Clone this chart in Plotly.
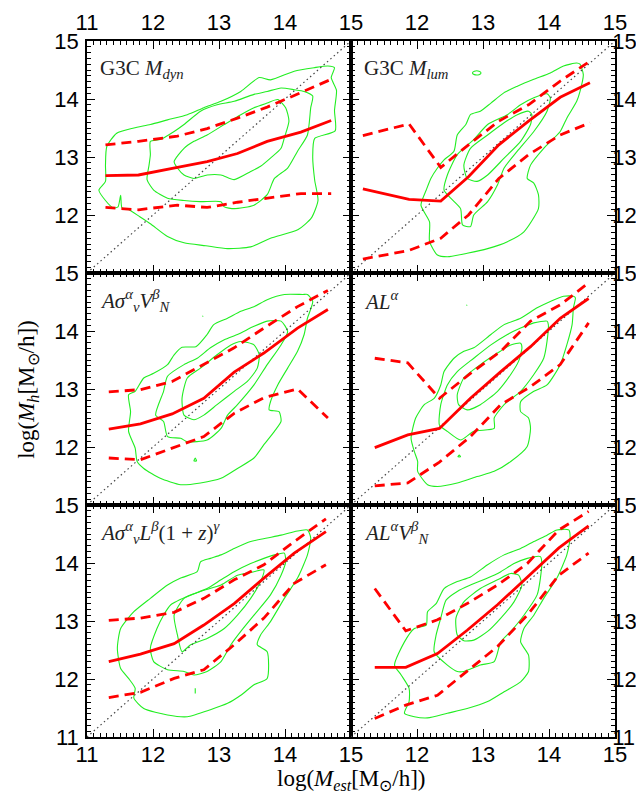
import plotly.graph_objects as go
from plotly.subplots import make_subplots

# ---------------- data ----------------
PANEL_LABELS = [
    "G3C <i>M</i><sub><i>dyn</i></sub>",
    "G3C <i>M</i><sub><i>lum</i></sub>",
    "<i>Aσ</i><sup><i>α</i></sup><sub><i>v</i></sub><i>V</i><sup><i>β</i></sup><sub><i>N</i></sub>",
    "<i>AL</i><sup><i>α</i></sup>",
    "<i>Aσ</i><sup><i>α</i></sup><sub><i>v</i></sub><i>L</i><sup><i>β</i></sup>(1 + <i>z</i>)<sup><i>γ</i></sup>",
    "<i>AL</i><sup><i>α</i></sup><i>V</i><sup><i>β</i></sup><sub><i>N</i></sub>",
]

# bin centres, medians, upper / lower percentiles for each panel
P1_X = [11.28, 11.78, 12.37, 12.82, 13.28, 13.73, 14.24, 14.70]
P1_MED = [12.68, 12.69, 12.82, 12.92, 13.06, 13.27, 13.43, 13.63]
P1_HI = [13.21, 13.27, 13.36, 13.49, 13.67, 13.86, 14.11, 14.34]
P1_LO = [12.13, 12.09, 12.17, 12.13, 12.22, 12.29, 12.37, 12.37]

P2_X = [11.18, 11.88, 12.36, 12.78, 13.24, 13.69, 14.17, 14.62]
P2_MED = [12.45, 12.27, 12.24, 12.66, 13.21, 13.62, 14.03, 14.28]
P2_HI = [13.37, 13.57, 12.82, 13.21, 13.62, 13.90, 14.31, 14.65]
P2_LO = [11.24, 11.39, 11.60, 12.00, 12.63, 13.04, 13.38, 13.59]

P3_X = [11.33, 11.81, 12.29, 12.77, 13.23, 13.68, 14.19, 14.65]
P3_MED = [12.31, 12.40, 12.57, 12.84, 13.29, 13.62, 14.05, 14.37]
P3_HI = [12.95, 12.99, 13.13, 13.42, 13.71, 14.05, 14.42, 14.70]
P3_LO = [11.81, 11.78, 11.98, 12.18, 12.58, 12.85, 13.00, 12.50]

P4_X = [11.36, 11.86, 12.34, 12.81, 13.27, 13.72, 14.17, 14.60]
P4_MED = [11.99, 12.21, 12.32, 12.84, 13.30, 13.73, 14.22, 14.56]
P4_HI = [13.53, 13.45, 12.84, 13.27, 13.65, 14.17, 14.45, 14.83]
P4_LO = [11.33, 11.38, 11.74, 12.18, 12.73, 13.04, 13.42, 14.14]

P5_X = [11.33, 11.81, 12.32, 12.77, 13.23, 13.68, 14.14, 14.62]
P5_MED = [12.30, 12.43, 12.61, 12.93, 13.30, 13.74, 14.17, 14.54]
P5_HI = [13.01, 13.05, 13.15, 13.39, 13.71, 13.97, 14.37, 14.76]
P5_LO = [11.68, 11.77, 12.01, 12.16, 12.59, 13.05, 13.65, 13.97]

P6_X = [11.36, 11.83, 12.31, 12.76, 13.22, 13.67, 14.15, 14.60]
P6_MED = [12.20, 12.20, 12.44, 12.84, 13.28, 13.76, 14.26, 14.64]
P6_HI = [13.56, 12.83, 13.02, 13.30, 13.62, 13.99, 14.57, 14.89]
P6_LO = [11.32, 11.55, 11.72, 12.13, 12.56, 13.10, 13.79, 14.17]

# density contour outlines (x, y) per panel
P1_OUTER = [(11.30, 13.18), (11.45, 13.41), (11.71, 13.50), (11.96, 13.56), (12.22, 13.64), (12.52, 13.73),
            (12.77, 13.85), (13.03, 13.96), (13.33, 14.13), (13.61, 14.37), (13.78, 14.33), (14.14, 14.48),
            (14.44, 14.54), (14.65, 14.57), (14.75, 14.54), (14.70, 14.37), (14.78, 14.15), (14.75, 13.80),
            (14.76, 13.45), (14.45, 13.32), (14.42, 13.00), (14.45, 12.60), (14.50, 12.25), (14.40, 11.95),
            (14.20, 11.75), (13.78, 11.60), (13.48, 11.45), (13.13, 11.42), (12.80, 11.47), (12.47, 11.52),
            (12.22, 11.63), (11.96, 11.85), (11.80, 11.97), (11.62, 12.10), (11.53, 12.12), (11.51, 12.34),
            (11.47, 12.14), (11.40, 12.12), (11.28, 12.25), (11.18, 12.43), (11.28, 12.58), (11.28, 12.86),
            (11.30, 13.18)]
P1_MID = [(11.91, 12.61), (11.94, 12.86), (11.96, 13.04), (11.96, 13.27), (12.11, 13.30), (12.32, 13.44),
          (12.47, 13.56), (12.72, 13.79), (12.97, 13.90), (13.23, 13.96), (13.53, 14.08), (13.73, 14.13),
          (13.94, 14.19), (14.14, 14.16), (14.29, 14.13), (14.42, 14.05), (14.39, 13.85), (14.34, 13.38),
          (14.19, 13.10), (14.04, 12.81), (13.84, 12.63), (13.73, 12.35), (13.53, 12.17), (13.23, 12.11),
          (13.08, 12.14), (13.03, 12.23), (12.72, 12.23), (12.47, 12.25), (12.22, 12.29), (12.01, 12.43),
          (11.91, 12.61)]
P1_IN = [(12.37, 12.81), (12.32, 12.92), (12.47, 13.15), (12.62, 13.27), (12.82, 13.38), (13.08, 13.56),
         (13.33, 13.73), (13.53, 13.85), (13.73, 13.93), (13.89, 13.99), (14.01, 13.85), (14.06, 13.62),
         (13.99, 13.33), (13.94, 13.15), (13.78, 12.98), (13.63, 12.84), (13.48, 12.75), (13.23, 12.61),
         (13.03, 12.69), (12.82, 12.69), (12.62, 12.63), (12.47, 12.69), (12.37, 12.81)]

P2_OUTER = [(14.42, 14.62), (14.22, 14.57), (14.02, 14.45), (13.77, 14.34), (13.52, 14.22), (13.32, 14.11),
            (13.12, 13.93), (12.96, 13.79), (12.81, 13.73), (12.74, 13.56), (12.61, 13.38), (12.56, 13.10),
            (12.41, 12.95), (12.31, 12.81), (12.21, 12.63), (12.14, 12.43), (12.06, 12.17), (12.19, 11.88),
            (12.19, 11.54), (12.31, 11.31), (12.46, 11.28), (12.76, 11.34), (13.07, 11.42), (13.37, 11.54),
            (13.62, 11.71), (13.84, 12.11), (13.84, 12.35), (13.77, 12.55), (13.67, 12.63), (13.72, 12.86),
            (13.92, 13.15), (14.17, 13.44), (14.27, 13.67), (14.42, 13.96), (14.47, 14.13), (14.52, 14.42),
            (14.47, 14.60), (14.42, 14.62)]
P2_MID = [(13.97, 14.09), (13.77, 14.02), (13.57, 13.90), (13.37, 13.73), (13.07, 13.56), (12.86, 13.30),
          (12.61, 13.04), (12.46, 12.69), (12.41, 12.43), (12.51, 12.29), (12.66, 12.11), (12.69, 11.83),
          (12.81, 11.80), (12.86, 12.00), (13.07, 12.23), (13.22, 12.52), (13.32, 12.81), (13.52, 13.10),
          (13.77, 13.44), (13.97, 13.79), (14.02, 14.02), (13.97, 14.09)]
P2_IN = [(13.69, 13.79), (13.52, 13.73), (13.32, 13.59), (13.07, 13.38), (12.81, 13.15), (12.71, 12.86),
         (12.76, 12.63), (12.91, 12.58), (13.07, 12.69), (13.32, 12.98), (13.57, 13.27), (13.72, 13.56),
         (13.74, 13.73), (13.69, 13.79)]
P2_ISLAND = [(12.84, 14.45), (12.87, 14.48), (12.94, 14.48), (12.97, 14.45), (12.94, 14.42), (12.87, 14.42),
             (12.84, 14.45)]

P3_OUTER = [(14.27, 14.63), (13.99, 14.63), (13.73, 14.54), (13.53, 14.42), (13.33, 14.34), (13.13, 14.22),
            (12.92, 14.11), (12.82, 13.94), (12.65, 13.73), (12.44, 13.72), (12.32, 13.59), (12.22, 13.42),
            (12.01, 13.27), (11.86, 13.19), (11.73, 12.96), (11.63, 12.90), (11.66, 12.61), (11.63, 12.27),
            (11.73, 11.98), (11.76, 11.75), (11.86, 11.63), (12.11, 11.46), (12.42, 11.35), (12.72, 11.38),
            (13.03, 11.46), (13.28, 11.63), (13.53, 11.81), (13.68, 12.04), (13.84, 12.27), (13.94, 12.44),
            (13.91, 12.61), (13.76, 12.64), (13.78, 12.78), (13.89, 13.07), (14.04, 13.36), (14.19, 13.65),
            (14.29, 13.94), (14.34, 14.22), (14.42, 14.51), (14.34, 14.63), (14.27, 14.63)]
P3_MID = [(13.94, 14.17), (13.73, 14.17), (13.53, 14.08), (13.28, 13.94), (13.08, 13.85), (12.87, 13.71),
          (12.67, 13.53), (12.47, 13.42), (12.22, 13.22), (12.16, 12.96), (12.04, 12.55), (12.16, 12.44),
          (12.22, 12.18), (12.42, 12.15), (12.52, 12.09), (12.82, 12.12), (13.03, 12.32), (13.13, 12.55),
          (13.28, 12.73), (13.53, 13.07), (13.73, 13.42), (13.94, 13.76), (14.04, 13.99), (13.94, 14.17)]
P3_IN = [(13.33, 13.82), (13.18, 13.76), (12.97, 13.59), (12.72, 13.36), (12.52, 13.19), (12.44, 12.84),
         (12.47, 12.55), (12.62, 12.47), (12.77, 12.55), (12.97, 12.73), (13.23, 12.96), (13.43, 13.13),
         (13.58, 13.36), (13.61, 13.59), (13.53, 13.76), (13.33, 13.82)]
P3_ISLAND = [(12.62, 11.76), (12.66, 11.76), (12.64, 11.81), (12.62, 11.76)]
P3_DOT = [(12.75, 14.25), (12.76, 14.26)]

P4_OUTER = [(14.37, 14.60), (14.22, 14.60), (14.02, 14.51), (13.82, 14.40), (13.57, 14.22), (13.32, 14.11),
            (13.12, 13.94), (12.86, 13.71), (12.71, 13.65), (12.56, 13.53), (12.41, 13.30), (12.36, 13.07),
            (12.26, 12.84), (12.11, 12.73), (11.98, 12.50), (11.91, 12.15), (11.96, 11.92), (12.01, 11.75),
            (12.01, 11.58), (12.16, 11.35), (12.31, 11.32), (12.61, 11.38), (12.91, 11.49), (13.17, 11.58),
            (13.42, 11.75), (13.67, 12.01), (13.72, 12.32), (13.69, 12.50), (13.57, 12.61), (13.57, 12.78),
            (13.77, 12.96), (13.97, 13.07), (14.17, 13.42), (14.27, 13.76), (14.35, 14.11), (14.37, 14.40),
            (14.40, 14.57), (14.37, 14.60)]
P4_MID = [(13.97, 14.17), (13.77, 14.14), (13.57, 14.05), (13.37, 13.94), (13.12, 13.76), (12.86, 13.53),
          (12.61, 13.30), (12.46, 13.07), (12.36, 12.73), (12.34, 12.38), (12.46, 12.27), (12.66, 12.12),
          (12.86, 12.27), (13.17, 12.32), (13.17, 12.50), (13.32, 12.73), (13.57, 12.96), (13.77, 13.25),
          (13.92, 13.53), (13.97, 13.82), (13.99, 14.11), (13.97, 14.17)]
P4_IN = [(13.57, 13.79), (13.42, 13.76), (13.22, 13.62), (12.96, 13.42), (12.71, 13.19), (12.61, 12.90),
         (12.63, 12.73), (12.76, 12.64), (12.96, 12.73), (13.22, 12.96), (13.42, 13.25), (13.54, 13.48),
         (13.59, 13.71), (13.57, 13.79)]
P4_ISLAND = [(12.62, 11.83), (12.66, 11.83), (12.64, 11.86), (12.62, 11.83)]
P4_DOT = [(12.75, 14.44), (12.76, 14.45)]

P5_OUTER = [(14.34, 14.57), (14.14, 14.54), (13.94, 14.48), (13.73, 14.43), (13.48, 14.37), (13.23, 14.25),
            (13.03, 14.14), (12.87, 14.08), (12.72, 14.02), (12.67, 13.85), (12.42, 13.74), (12.22, 13.62),
            (11.96, 13.39), (11.71, 13.16), (11.51, 12.87), (11.46, 12.53), (11.51, 12.18), (11.63, 12.01),
            (11.73, 11.84), (11.71, 11.67), (11.86, 11.49), (12.22, 11.38), (12.52, 11.35), (12.87, 11.47),
            (13.13, 11.58), (13.33, 11.72), (13.53, 11.90), (13.73, 12.01), (13.73, 12.47), (13.58, 12.59),
            (13.63, 12.76), (13.78, 12.99), (13.99, 13.39), (14.19, 13.74), (14.34, 14.14), (14.39, 14.43),
            (14.34, 14.57)]
P5_MID = [(13.99, 14.17), (13.84, 14.14), (13.68, 14.08), (13.48, 13.99), (13.23, 13.85), (13.03, 13.71),
          (12.82, 13.56), (12.57, 13.45), (12.27, 13.28), (12.16, 13.10), (12.06, 12.87), (11.96, 12.53),
          (12.01, 12.30), (12.22, 12.16), (12.47, 12.13), (12.62, 12.07), (12.82, 12.13), (13.03, 12.30),
          (13.18, 12.59), (13.33, 12.82), (13.53, 13.10), (13.78, 13.45), (13.94, 13.79), (14.01, 14.02),
          (13.99, 14.17)]
P5_IN = [(13.68, 13.88), (13.53, 13.85), (13.28, 13.79), (13.03, 13.62), (12.72, 13.51), (12.47, 13.39),
         (12.32, 13.10), (12.37, 12.76), (12.44, 12.47), (12.57, 12.59), (12.82, 12.70), (13.08, 12.87),
         (13.28, 13.10), (13.48, 13.39), (13.63, 13.68), (13.68, 13.88)]
P5_ISLAND = [(12.64, 11.75), (12.64, 11.84)]

P6_OUTER = [(14.30, 14.57), (14.12, 14.57), (13.97, 14.48), (13.77, 14.37), (13.57, 14.25), (13.32, 14.14),
            (13.07, 13.97), (12.81, 13.76), (12.61, 13.68), (12.41, 13.56), (12.29, 13.30), (12.16, 13.16),
            (12.14, 12.93), (11.96, 12.87), (11.81, 12.64), (11.66, 12.24), (11.76, 12.07), (11.88, 11.84),
            (11.88, 11.61), (11.81, 11.41), (11.96, 11.35), (12.16, 11.33), (12.46, 11.41), (12.76, 11.49),
            (13.07, 11.61), (13.32, 11.78), (13.57, 11.95), (13.69, 12.13), (13.69, 12.41), (13.57, 12.64),
            (13.62, 12.87), (13.77, 13.10), (13.92, 13.39), (14.12, 13.74), (14.27, 14.14), (14.32, 14.43),
            (14.30, 14.57)]
P6_MID = [(13.87, 14.11), (13.67, 14.08), (13.47, 13.99), (13.27, 13.85), (13.07, 13.74), (12.81, 13.62),
          (12.61, 13.51), (12.44, 13.36), (12.36, 13.05), (12.29, 12.76), (12.26, 12.47), (12.46, 12.24),
          (12.61, 12.13), (12.71, 12.13), (12.96, 12.24), (13.17, 12.30), (13.27, 12.64), (13.42, 12.82),
          (13.62, 13.10), (13.82, 13.45), (13.87, 13.74), (13.89, 14.02), (13.87, 14.11)]
P6_IN = [(13.42, 13.82), (13.22, 13.71), (12.96, 13.56), (12.71, 13.33), (12.59, 13.05), (12.61, 12.76),
         (12.71, 12.66), (12.86, 12.67), (13.07, 12.82), (13.27, 13.05), (13.47, 13.33), (13.59, 13.62),
         (13.54, 13.79), (13.42, 13.82)]

ONE_TO_ONE = [11, 15]
X_TICKS_LEFT = [11, 12, 13, 14, 15]
X_TICKS_RIGHT = [12, 13, 14, 15]
Y_TICKS_UPPER = [12, 13, 14, 15]
Y_TICKS_BOTTOM = [11, 12, 13, 14, 15]

PANELS = [
    (P1_X, P1_MED, P1_HI, P1_LO, [P1_OUTER, P1_MID, P1_IN]),
    (P2_X, P2_MED, P2_HI, P2_LO, [P2_OUTER, P2_MID, P2_IN, P2_ISLAND]),
    (P3_X, P3_MED, P3_HI, P3_LO, [P3_OUTER, P3_MID, P3_IN, P3_ISLAND, P3_DOT]),
    (P4_X, P4_MED, P4_HI, P4_LO, [P4_OUTER, P4_MID, P4_IN, P4_ISLAND, P4_DOT]),
    (P5_X, P5_MED, P5_HI, P5_LO, [P5_OUTER, P5_MID, P5_IN, P5_ISLAND]),
    (P6_X, P6_MED, P6_HI, P6_LO, [P6_OUTER, P6_MID, P6_IN]),
]

# ---------------- figure ----------------
GREEN = "#22ee22"
RED = "#ff0000"
TICK_FONT = dict(family="Liberation Sans", size=22, color="black")
SERIF = "Liberation Serif"

fig = make_subplots(rows=3, cols=2, horizontal_spacing=0, vertical_spacing=0)

for i, (bx, med, hi, lo, contours) in enumerate(PANELS):
    r, c = i // 2 + 1, i % 2 + 1
    for cont in contours:
        fig.add_trace(go.Scatter(x=[p[0] for p in cont], y=[p[1] for p in cont], mode="lines",
                                 line=dict(color=GREEN, width=1.1, shape="spline", smoothing=0.6),
                                 hoverinfo="skip"), row=r, col=c)
    fig.add_trace(go.Scatter(x=ONE_TO_ONE, y=ONE_TO_ONE, mode="lines",
                             line=dict(color="#444444", width=1.2, dash="1.5px,3px")), row=r, col=c)
    fig.add_trace(go.Scatter(x=bx, y=hi, mode="lines",
                             line=dict(color=RED, width=2.8, dash="10px,6px")), row=r, col=c)
    fig.add_trace(go.Scatter(x=bx, y=lo, mode="lines",
                             line=dict(color=RED, width=2.8, dash="10px,6px")), row=r, col=c)
    fig.add_trace(go.Scatter(x=bx, y=med, mode="lines",
                             line=dict(color=RED, width=2.8)), row=r, col=c)

    xt = X_TICKS_LEFT if c == 1 else X_TICKS_RIGHT
    yt = Y_TICKS_BOTTOM if r == 3 else Y_TICKS_UPPER
    fig.update_xaxes(range=[11, 15], tickvals=xt, ticktext=[str(v) for v in xt],
                     side="top" if r == 1 else "bottom", showticklabels=(r != 2),
                     ticks="inside", ticklen=8, tickwidth=1.2, tickcolor="black",
                     minor=dict(dtick=0.1, ticks="inside", ticklen=4, tickwidth=1, tickcolor="black"),
                     showline=True, linecolor="black", linewidth=1.5, mirror="allticks",
                     showgrid=False, zeroline=False, tickfont=TICK_FONT,
                     ticklabelstandoff=0 if r == 1 else -3,
                     automargin=False, row=r, col=c)
    fig.update_yaxes(range=[11, 15], tickvals=yt, ticktext=[str(v) for v in yt],
                     side="left" if c == 1 else "right",
                     ticks="inside", ticklen=8, tickwidth=1.2, tickcolor="black",
                     minor=dict(dtick=0.1, ticks="inside", ticklen=4, tickwidth=1, tickcolor="black"),
                     showline=True, linecolor="black", linewidth=1.5, mirror="allticks",
                     showgrid=False, zeroline=False, tickfont=TICK_FONT,
                     ticklabelstandoff=2 if c == 1 else -9,
                     automargin=False, row=r, col=c)
    axn = "" if i == 0 else str(i + 1)
    fig.add_annotation(x=0.04, y=0.88, xref=f"x{axn} domain", yref=f"y{axn} domain",
                       text=PANEL_LABELS[i], showarrow=False, xanchor="left", yanchor="middle",
                       font=dict(family=SERIF, size=21, color="#222222"))

fig.add_annotation(x=0.5, y=-0.062, xref="paper", yref="paper", showarrow=False,
                   text="log(<i>M</i><sub><i>est</i></sub>[M<sub>⊙</sub>/h])",
                   xanchor="center", yanchor="middle", font=dict(family=SERIF, size=23, color="black"))
fig.add_annotation(x=-0.112, y=0.5, xref="paper", yref="paper", showarrow=False, textangle=-90,
                   text="log(<i>M</i><sub><i>h</i></sub>[M<sub>⊙</sub>/h])",
                   xanchor="center", yanchor="middle", font=dict(family=SERIF, size=23, color="black"))

fig.update_layout(width=644, height=800, showlegend=False,
                  margin=dict(l=79, r=37, t=33, b=71, autoexpand=False),
                  plot_bgcolor="white", paper_bgcolor="white")

fig.write_html("out.html")
